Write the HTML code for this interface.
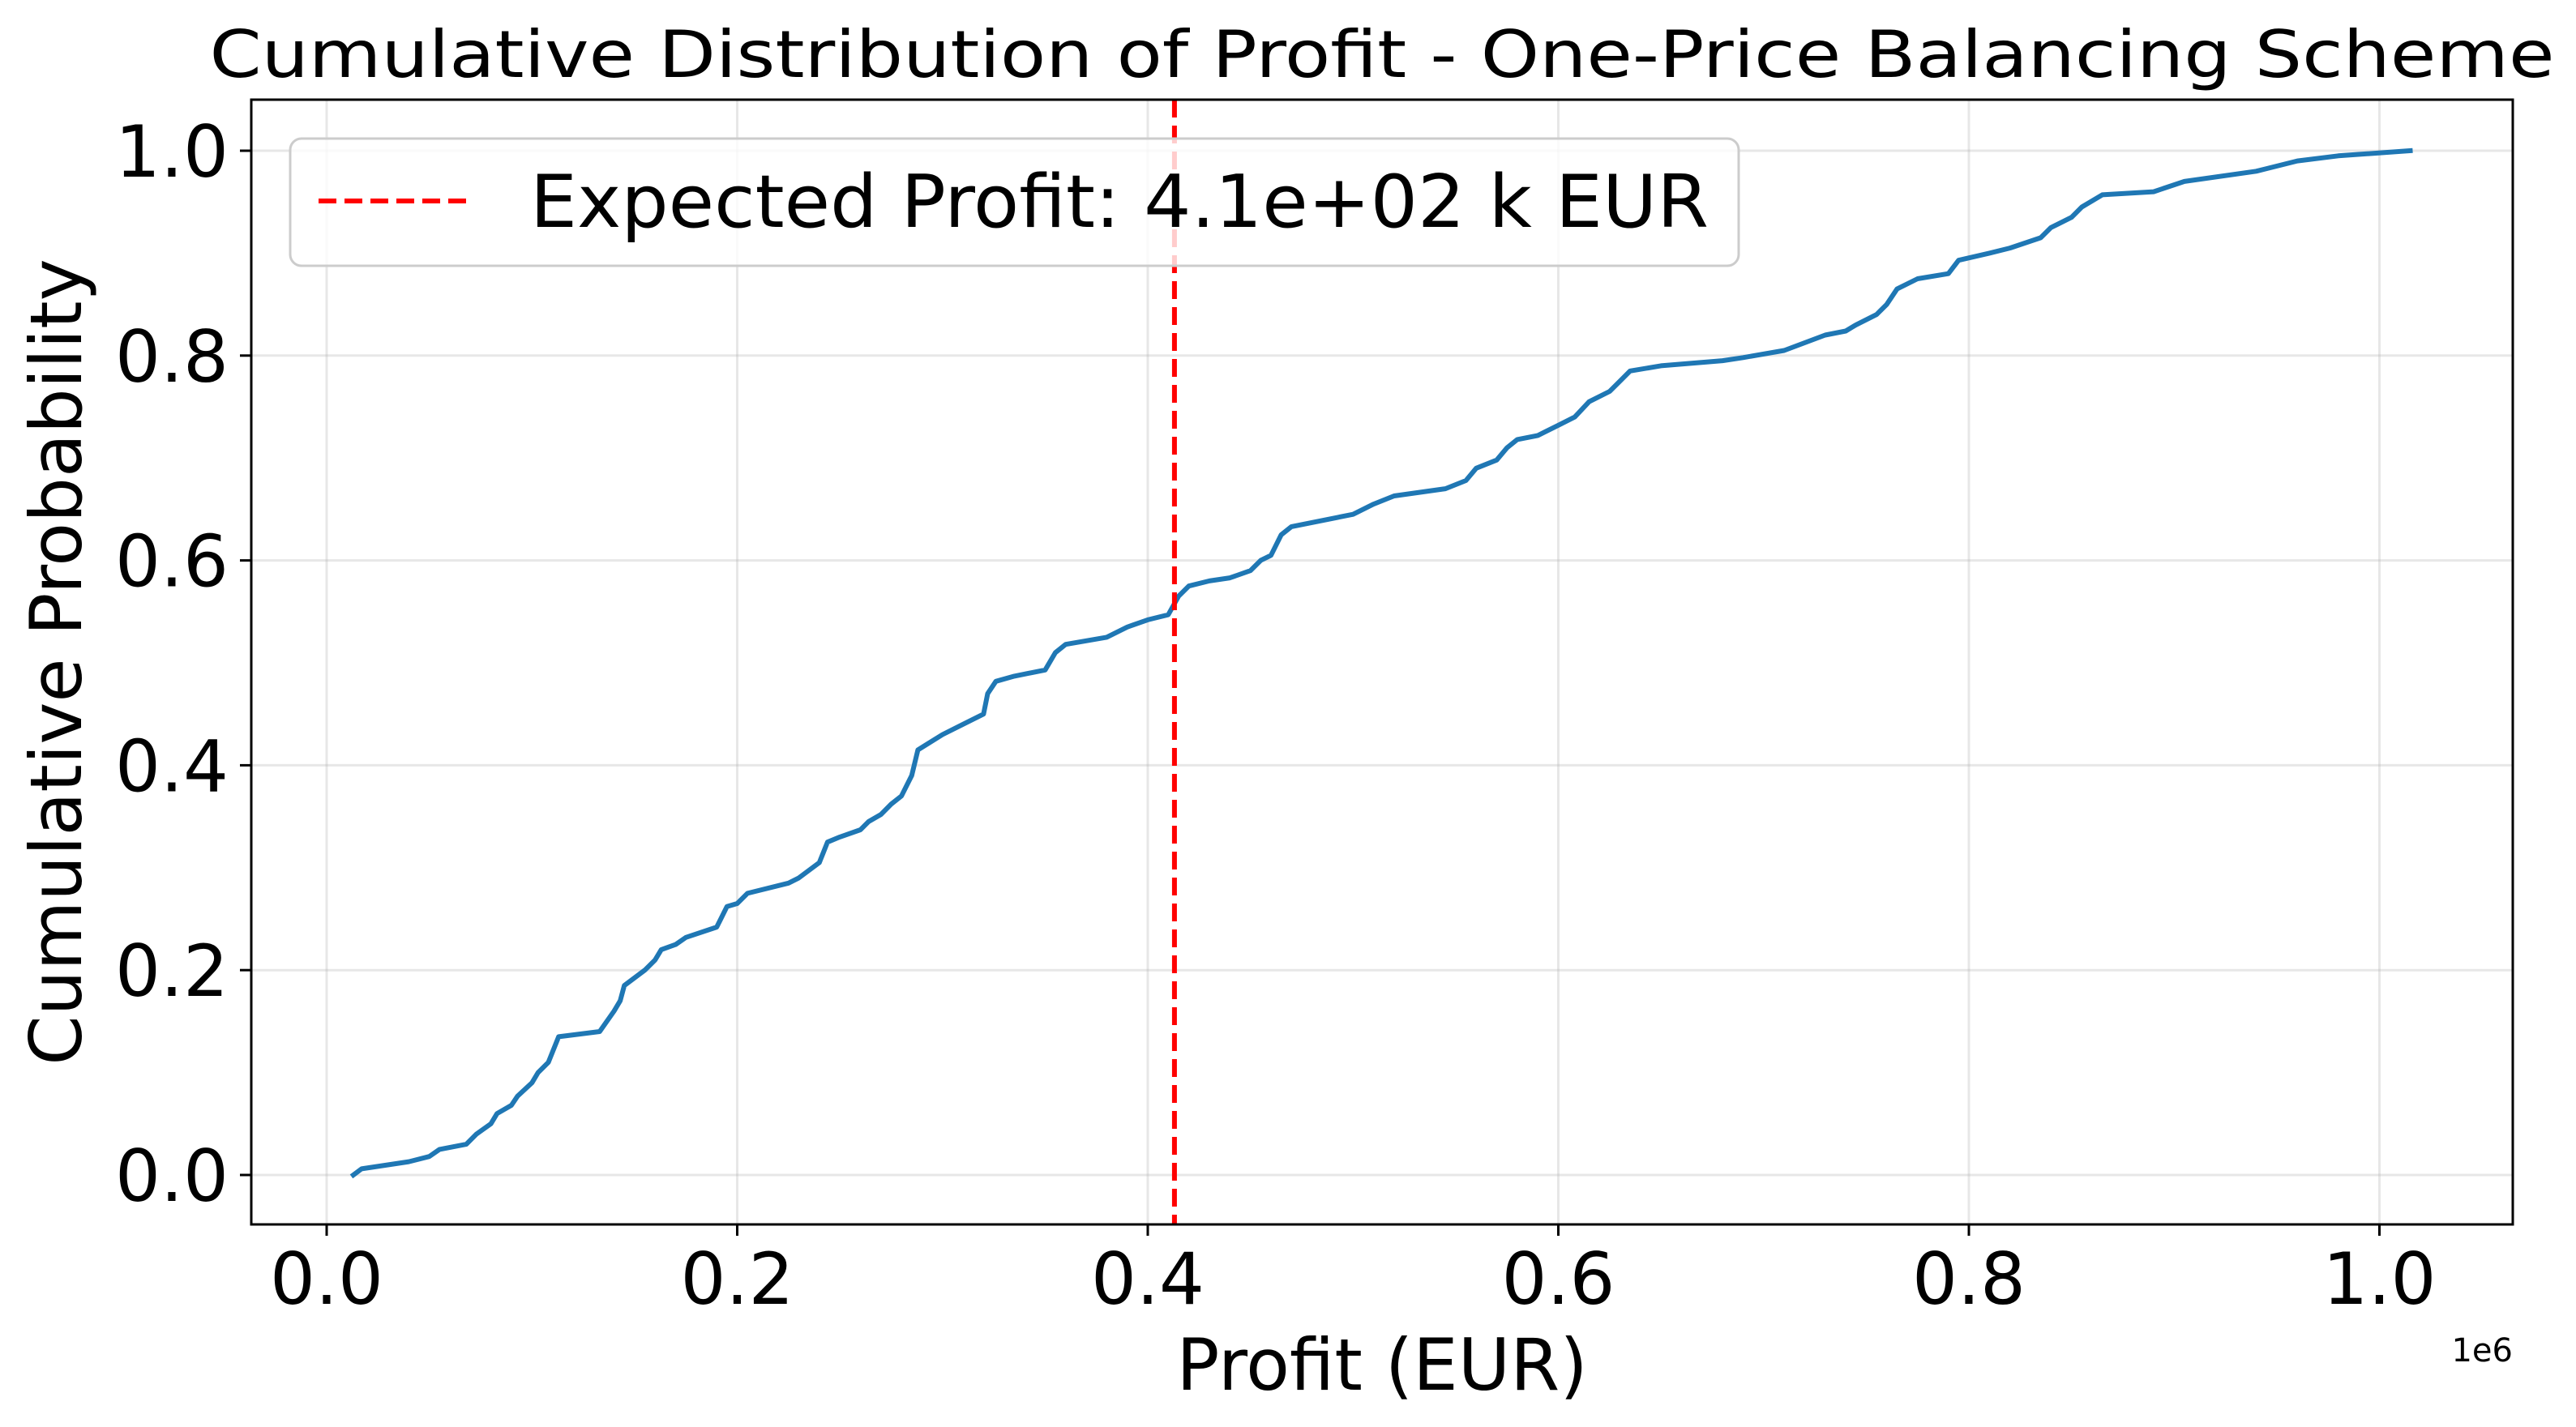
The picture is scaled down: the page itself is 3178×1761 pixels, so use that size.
<!DOCTYPE html>
<html><head><meta charset="utf-8"><style>html,body{margin:0;padding:0;background:#fff}svg{display:block}text{font-family:"DejaVu Sans","Liberation Sans",sans-serif}</style></head>
<body>
<svg id="chart" width="3178" height="1761" viewBox="0 0 3178 1761" xmlns="http://www.w3.org/2000/svg">
<rect width="3178" height="1761" fill="#fff"/>
<g id="grid"></g>
<g id="series"></g>
<g id="axes"></g>
</svg>
<script>
const profitX = [0.013,0.017,0.04,0.05,0.055,0.068,0.073,0.08,0.083,0.09,0.093,0.1,0.103,0.108,0.113,0.133,0.14,0.143,0.145,0.155,0.16,0.163,0.17,0.175,0.19,0.195,0.2,0.205,0.225,0.23,0.24,0.244,0.25,0.26,0.264,0.27,0.275,0.28,0.285,0.288,0.3,0.31,0.32,0.322,0.326,0.335,0.35,0.355,0.36,0.38,0.39,0.4,0.41,0.415,0.42,0.43,0.44,0.45,0.455,0.46,0.465,0.47,0.5,0.51,0.52,0.545,0.555,0.56,0.57,0.575,0.58,0.59,0.6,0.608,0.615,0.625,0.63,0.635,0.65,0.68,0.69,0.71,0.73,0.74,0.745,0.755,0.76,0.765,0.775,0.79,0.795,0.81,0.82,0.835,0.84,0.85,0.855,0.865,0.89,0.905,0.94,0.96,0.98,1.015];
const cumProb = [0,0.006,0.013,0.018,0.025,0.03,0.04,0.05,0.06,0.068,0.077,0.09,0.1,0.11,0.135,0.14,0.16,0.17,0.185,0.2,0.21,0.22,0.225,0.232,0.242,0.262,0.265,0.275,0.285,0.29,0.305,0.325,0.33,0.337,0.345,0.352,0.362,0.37,0.39,0.415,0.43,0.44,0.45,0.47,0.482,0.487,0.493,0.51,0.518,0.525,0.535,0.542,0.547,0.565,0.575,0.58,0.583,0.59,0.6,0.605,0.625,0.633,0.645,0.655,0.663,0.67,0.678,0.69,0.698,0.71,0.718,0.722,0.732,0.74,0.755,0.765,0.775,0.785,0.79,0.795,0.798,0.805,0.82,0.824,0.83,0.84,0.85,0.865,0.875,0.88,0.893,0.9,0.905,0.915,0.925,0.935,0.945,0.957,0.96,0.97,0.98,0.99,0.995,1.0];
const expectedProfit = [0.413];
const xTicks = [0,0.2,0.4,0.6,0.8,1.0];
const xTickLabels = ["0.0","0.2","0.4","0.6","0.8","1.0"];
const yTicks = [0,0.2,0.4,0.6,0.8,1.0];
const yTickLabels = ["0.0","0.2","0.4","0.6","0.8","1.0"];

const NS="http://www.w3.org/2000/svg";
const L=310,R=3100,T=123,B=1511;
const sx=v=>403+v*2532.5;
const sy=v=>1450-v*1264;
function mk(tag,attrs,parent,text){const e=document.createElementNS(NS,tag);for(const k in attrs)e.setAttribute(k,attrs[k]);if(text!==undefined)e.textContent=text;parent.appendChild(e);return e;}
const grid=document.getElementById('grid'),series=document.getElementById('series'),axes=document.getElementById('axes');

xTicks.forEach((v,i)=>{
  const g=mk('line',{x1:sx(v),x2:sx(v),y1:T,y2:B,stroke:'#b0b0b0','stroke-opacity':0.3,'stroke-width':3},grid);
  
  
  const t=mk('line',{x1:sx(v),x2:sx(v),y1:B,y2:B+14,stroke:'#000','stroke-width':3},axes);
  
  
  const lb=mk('text',{x:sx(v),y:1609,'font-size':88,'text-anchor':'middle',fill:'#000'},axes,xTickLabels[i]);
  
  
});
yTicks.forEach((v,i)=>{
  const g=mk('line',{x1:L,x2:R,y1:sy(v),y2:sy(v),stroke:'#b0b0b0','stroke-opacity':0.3,'stroke-width':3},grid);
  
  
  const t=mk('line',{x1:L-14,x2:L,y1:sy(v),y2:sy(v),stroke:'#000','stroke-width':3},axes);
  
  
  const lb=mk('text',{x:L-28,y:sy(v)+32,'font-size':88,'text-anchor':'end',fill:'#000'},axes,yTickLabels[i]);
  
  
});

const pts=profitX.map((x,i)=>sx(x).toFixed(1)+','+sy(cumProb[i]).toFixed(1)).join(' ');
const line=mk('polyline',{points:pts,fill:'none',stroke:'#1f77b4','stroke-width':6,'stroke-linejoin':'round','stroke-linecap':'square'},series);



expectedProfit.forEach(v=>{
  const e=mk('line',{x1:sx(v),x2:sx(v),y1:T,y2:B,stroke:'#ff0000','stroke-width':6,'stroke-dasharray':'22 10'},series);
  
  
});

const frame=mk('rect',{x:L,y:T,width:R-L,height:B-T,fill:'none',stroke:'#000','stroke-width':3},axes);



const lg=mk('g',{},axes);


mk('rect',{x:358,y:171,width:1787,height:157,rx:14,fill:'#fff','fill-opacity':0.8,stroke:'#cccccc','stroke-width':3},lg);
const ll=mk('line',{x1:393,x2:580,y1:248,y2:248,stroke:'#ff0000','stroke-width':6,'stroke-dasharray':'22 10'},lg);


const lt=mk('text',{x:654,y:280,'font-size':90,fill:'#000',textLength:1454,lengthAdjust:'spacingAndGlyphs'},lg,'Expected Profit: 4.1e+02 k EUR');



const title=mk('text',{x:(L+R)/2,y:95,'font-size':80,'text-anchor':'middle',fill:'#000',textLength:2893,lengthAdjust:'spacingAndGlyphs'},axes,'Cumulative Distribution of Profit - One-Price Balancing Scheme');


const xl=mk('text',{x:(L+R)/2,y:1715,'font-size':88,'text-anchor':'middle',fill:'#000'},axes,'Profit (EUR)');


const yl=mk('text',{x:0,y:0,'font-size':88,'text-anchor':'middle',fill:'#000',transform:'translate(100,817) rotate(-90)'},axes,'Cumulative Probability');


const off=mk('text',{x:3100,y:1680,'font-size':40,'text-anchor':'end',fill:'#000'},axes,'1e6');


</script>
</body></html>
